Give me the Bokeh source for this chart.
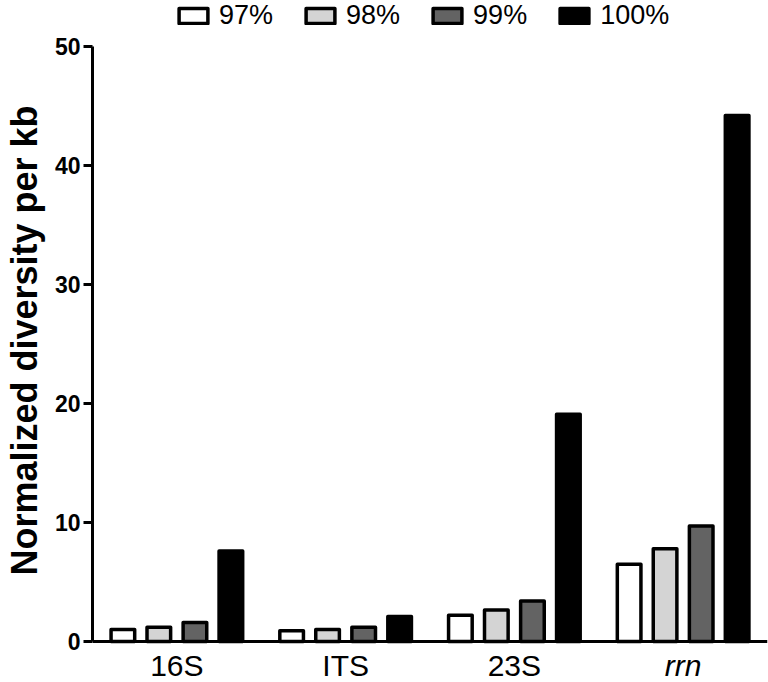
from bokeh.plotting import figure
from bokeh.models import (ColumnDataSource, Range1d, FixedTicker, Legend, LegendItem, Span)
from bokeh.transform import dodge
from bokeh.core.properties import value, field
from bokeh.embed import file_html
from bokeh.resources import INLINE

categories = ["16S", "ITS", "23S", "rrn"]
label_styles = ["normal", "normal", "normal", "italic"]
series_names = ["97%", "98%", "99%", "100%"]
v97 = [1.0, 0.9, 2.2, 6.5]
v98 = [1.2, 1.0, 2.65, 7.8]
v99 = [1.6, 1.2, 3.4, 9.7]
v100 = [7.6, 2.1, 19.1, 44.2]
y_ticks = [0, 10, 20, 30, 40, 50]

colors = ["#ffffff", "#d4d4d4", "#636363", "#000000"]
offsets = [-0.32, -0.107, 0.107, 0.32]
FONT = "Liberation Sans"

# layout: value axis 0..50 occupies y=641..46 px; frame spans 0..680 px
PX_PER_UNIT = (641 - 46) / 50.0
Y_LO = -(680 - 641) / PX_PER_UNIT
Y_HI = 50 + 46 / PX_PER_UNIT

src = ColumnDataSource(dict(cat=categories, s97=v97, s98=v98, s99=v99, s100=v100))
cols = ["s97", "s98", "s99", "s100"]

p = figure(x_range=categories, y_range=Range1d(Y_LO, Y_HI), width=768, height=682,
           output_backend="svg", toolbar_location=None, x_axis_location=None,
           min_border_left=88, min_border_right=1, min_border_top=0, min_border_bottom=2)
p.outline_line_color = None
p.xgrid.grid_line_color = None
p.ygrid.grid_line_color = None

renderers = []
for i, c in enumerate(cols):
    r = p.vbar(x=dodge("cat", offsets[i], range=p.x_range), top=c, width=0.14, bottom=0,
               source=src, fill_color=colors[i], line_color="black", line_width=3.5,
               line_join="round")
    renderers.append(r)

# x axis line at zero
p.add_layout(Span(location=0, dimension="width", line_color="black", line_width=3))

# category labels (rrn italic)
lab_src = ColumnDataSource(dict(x=categories, style=label_styles))
p.text(x="x", y=-0.65, text="x", source=lab_src, text_align="center", text_baseline="top",
       text_font=value(FONT), text_font_size=value("30px"),
       text_font_style=field("style"), text_color="black")

legend = Legend(items=[LegendItem(label=series_names[i], renderers=[renderers[i]])
                       for i in range(4)],
                orientation="horizontal", location=(83, 649),
                label_text_font=FONT, label_text_font_size="27px", label_text_color="black",
                glyph_width=36, glyph_height=19, label_standoff=8, spacing=29,
                padding=0, margin=0, border_line_color=None, background_fill_alpha=0)
p.add_layout(legend)

# y axis
ya = p.yaxis[0]
ya.bounds = (0, 50)
ya.ticker = FixedTicker(ticks=y_ticks)
ya.minor_tick_line_color = None
ya.axis_line_width = 3
ya.major_tick_line_width = 3
ya.major_tick_out = 9
ya.major_tick_in = 0
ya.major_label_standoff = 3
ya.major_label_text_font = FONT
ya.major_label_text_font_style = "bold"
ya.major_label_text_font_size = "23px"
ya.major_label_text_color = "black"
ya.axis_label = "Normalized diversity per kb"
ya.axis_label_text_font = FONT
ya.axis_label_text_font_style = "bold"
ya.axis_label_text_font_size = "36px"
ya.axis_label_text_color = "black"
ya.axis_label_standoff = 7

open("out.html", "w").write(file_html(p, INLINE))
